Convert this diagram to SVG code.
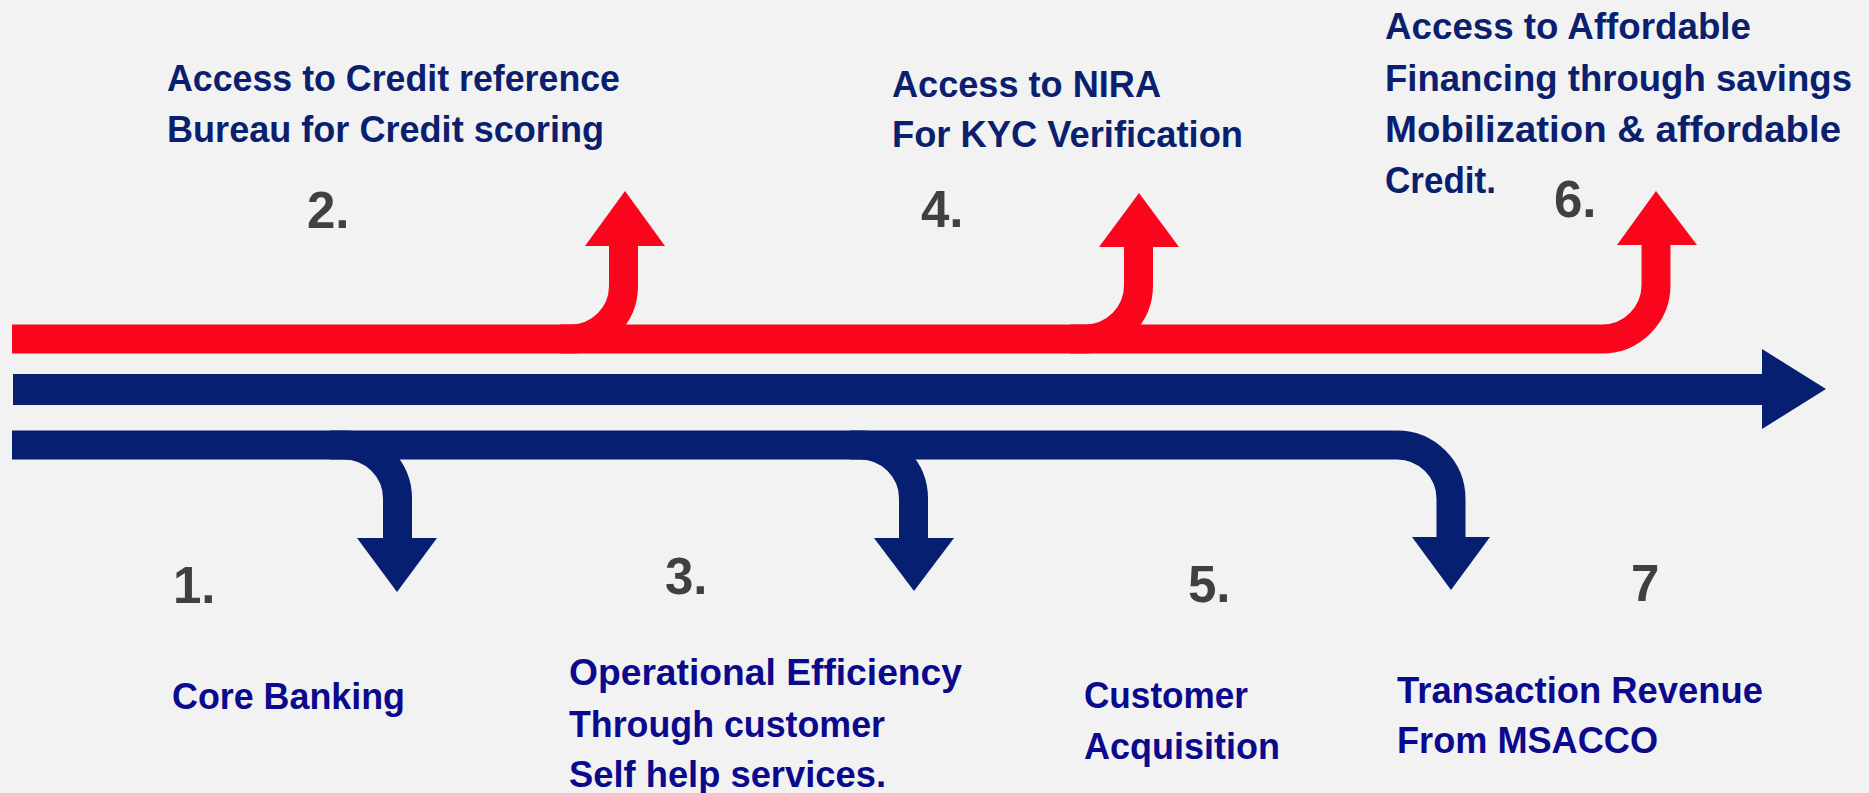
<svg xmlns="http://www.w3.org/2000/svg" width="1869" height="793" viewBox="0 0 1869 793">
<style>
.red{fill:none;stroke:#f9061c;stroke-width:29;stroke-linecap:butt}
.blue{fill:none;stroke:#061f70;stroke-width:29;stroke-linecap:butt}
.rh{fill:#f9061c}
.bh{fill:#061f70}
.top{font-family:"Liberation Sans",Arial,sans-serif;font-weight:bold;font-size:37px;fill:#0a1f6e}
.bot{font-family:"Liberation Sans",Arial,sans-serif;font-weight:bold;font-size:37px;fill:#0b0a8c}
.num{font-family:"Liberation Sans",Arial,sans-serif;font-weight:bold;font-size:51px;fill:#404040}
</style>
<rect x="0" y="0" width="1869" height="793" fill="#f2f2f2"/>
<g id="connectors">
<path class="red" d="M12,339 H1602 A54,54 0 0 0 1656,285 V244"/>
<path class="red" d="M560,339 H570.5 A53,53 0 0 0 623.5,286 V244"/>
<path class="red" d="M1070,339 H1085 A53.5,53.5 0 0 0 1138.5,285.5 V245"/>
<polygon class="rh" points="585,246 665,246 625,191"/>
<polygon class="rh" points="1099,247 1179,247 1139,193"/>
<polygon class="rh" points="1617,245 1697,245 1656,191"/>
<polygon class="bh" points="13,374 1762,374 1762,349 1826,389 1762,429 1762,405 13,405"/>
<path class="blue" d="M12,445 H1397 A54,54 0 0 1 1451,499 V539"/>
<path class="blue" d="M330,445 H344 A53.5,53.5 0 0 1 397.5,498.5 V540"/>
<path class="blue" d="M850,445 H860 A53.5,53.5 0 0 1 913.5,498.5 V540"/>
<polygon class="bh" points="357,538 437,538 397,592"/>
<polygon class="bh" points="874,538 954,538 914,591"/>
<polygon class="bh" points="1412,537 1490,537 1451,590"/>
</g>
<g id="node2">
<text class="top" x="167" y="91" textLength="453" lengthAdjust="spacingAndGlyphs">Access to Credit reference</text>
<text class="top" x="167" y="142" textLength="437" lengthAdjust="spacingAndGlyphs">Bureau for Credit scoring</text>
<text class="num" x="307" y="228">2.</text>
</g>
<g id="node4">
<text class="top" x="892" y="97" textLength="269" lengthAdjust="spacingAndGlyphs">Access to NIRA</text>
<text class="top" x="892" y="147" textLength="351" lengthAdjust="spacingAndGlyphs">For KYC Verification</text>
<text class="num" x="921" y="227">4.</text>
</g>
<g id="node6">
<text class="top" x="1385" y="39" textLength="366" lengthAdjust="spacingAndGlyphs">Access to Affordable</text>
<text class="top" x="1385" y="91" textLength="467" lengthAdjust="spacingAndGlyphs">Financing through savings</text>
<text class="top" x="1385" y="142" textLength="456" lengthAdjust="spacingAndGlyphs">Mobilization &amp; affordable</text>
<text class="top" x="1385" y="193" textLength="111" lengthAdjust="spacingAndGlyphs">Credit.</text>
<text class="num" x="1554" y="217">6.</text>
</g>
<g id="node1">
<text class="num" x="173" y="603">1.</text>
<text class="bot" x="172" y="709" textLength="233" lengthAdjust="spacingAndGlyphs">Core Banking</text>
</g>
<g id="node3">
<text class="num" x="665" y="594">3.</text>
<text class="bot" x="569" y="685" textLength="393" lengthAdjust="spacingAndGlyphs">Operational Efficiency</text>
<text class="bot" x="569" y="737" textLength="316" lengthAdjust="spacingAndGlyphs">Through customer</text>
<text class="bot" x="569" y="787" textLength="317" lengthAdjust="spacingAndGlyphs">Self help services.</text>
</g>
<g id="node5">
<text class="num" x="1188" y="602">5.</text>
<text class="bot" x="1084" y="708" textLength="164" lengthAdjust="spacingAndGlyphs">Customer</text>
<text class="bot" x="1084" y="759" textLength="196" lengthAdjust="spacingAndGlyphs">Acquisition</text>
</g>
<g id="node7">
<text class="num" x="1631" y="601">7</text>
<text class="bot" x="1397" y="703" textLength="366" lengthAdjust="spacingAndGlyphs">Transaction Revenue</text>
<text class="bot" x="1397" y="753" textLength="261" lengthAdjust="spacingAndGlyphs">From MSACCO</text>
</g>
</svg>
